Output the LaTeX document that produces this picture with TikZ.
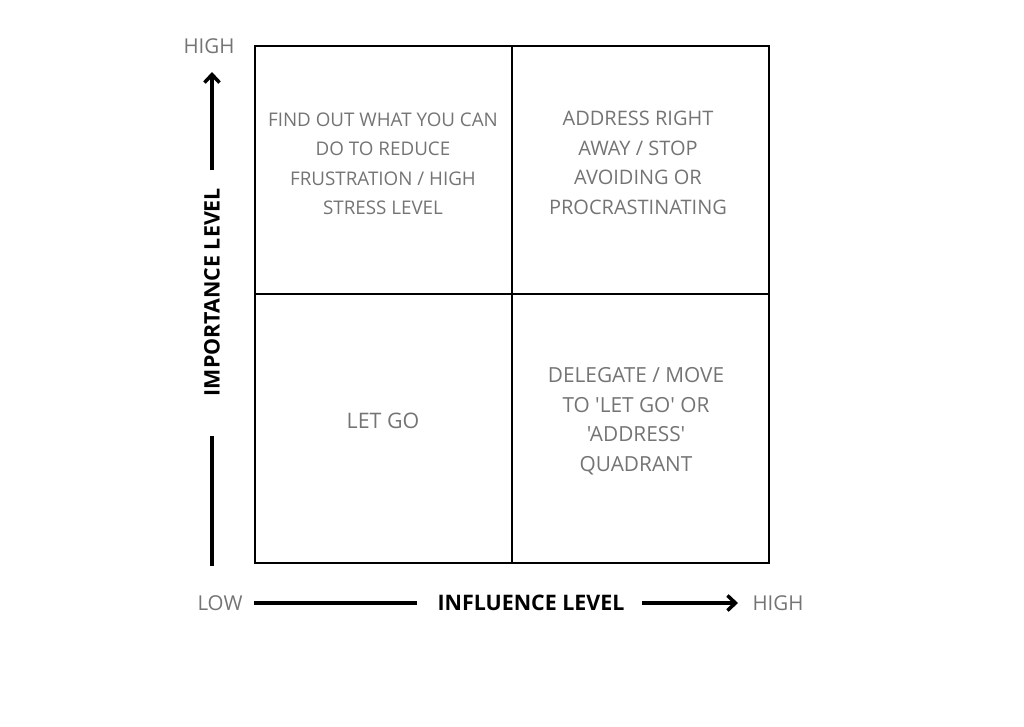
\documentclass[tikz,border=0pt]{standalone}
\usepackage{fontspec}
\usepackage{tikz}
\usetikzlibrary{arrows.meta}
\newfontfamily\gridfont{Open Sans}
\definecolor{quadgray}{HTML}{747474}

\begin{document}
\begin{tikzpicture}[x=1pt, y=-1pt,
				quadtext/.style = {font=\gridfont\fontsize{#1}{29.5}\selectfont, text=quadgray, align=center},
				axistext/.style = {font=\gridfont\fontsize{20.5}{24}\selectfont, text=quadgray},
				axisname/.style = {font=\gridfont\bfseries\fontsize{21.4}{24}\selectfont, text=black},
				gridline/.style = {line width=1.5pt, black},
				axisline/.style = {line width=3.5pt, black},
				axisarrow/.style = {axisline, -{Straight Barb[length=8pt, width=15pt]}}]
				%\draw[help lines] (0,0) grid (1024,726);
				\useasboundingbox (0,0) rectangle (1024,726);
				
				% the four quadrants
				\draw[gridline] (255,46) rectangle (769,563);
				\draw[gridline] (512,46) -- (512,563);
				\draw[gridline] (255,294) -- (769,294);
				
				\node[quadtext=18.8] (findout) at (383,164) {FIND OUT WHAT YOU CAN\\DO TO REDUCE\\FRUSTRATION / HIGH\\STRESS LEVEL};
				\node[quadtext=20] (address) at (638,163) {ADDRESS RIGHT\\AWAY / STOP\\AVOIDING OR\\PROCRASTINATING};
				\node[quadtext=21.4] (letgo) at (383,421) {LET GO};
				\node[quadtext=20.8] (delegate) at (636,421) {DELEGATE / MOVE\\TO 'LET GO' OR\\'ADDRESS'\\QUADRANT};
				
				% importance axis
				\node[axistext] (impHigh) at (209,46) {HIGH};
				\node[axisname, rotate=90] (impName) at (212,292) {IMPORTANCE LEVEL};
				\coordinate (impStart) at (212,566);
				\coordinate (impStop) at (212,436);
				\coordinate (impFrom) at (212,170);
				\coordinate (impTo) at (212,72);
				\draw[axisline] (impStart) -- (impStop);
				\draw[axisarrow] (impFrom) -- (impTo);
				
				% influence axis
				\node[axistext] (infLow) at (220,603) {LOW};
				\node[axisname] (infName) at (531,603) {INFLUENCE LEVEL};
				\node[axistext] (infHigh) at (778,603) {HIGH};
				\coordinate (infStart) at (254,603);
				\coordinate (infStop) at (417,603);
				\coordinate (infFrom) at (642,603);
				\coordinate (infTo) at (738,603);
				\draw[axisline] (infStart) -- (infStop);
				\draw[axisarrow] (infFrom) -- (infTo);
\end{tikzpicture}
\end{document}
